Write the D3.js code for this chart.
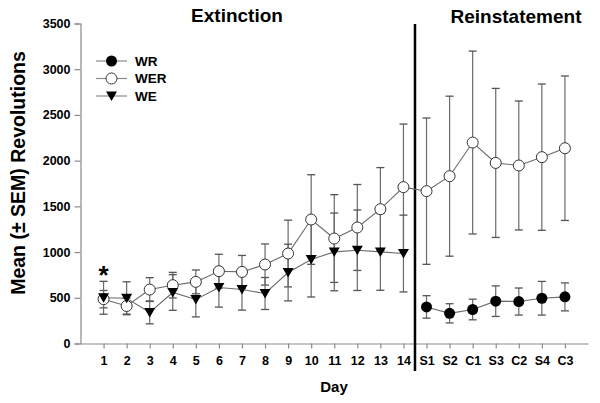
<!DOCTYPE html>
<html>
<head>
<meta charset="utf-8">
<script src="https://cdn.jsdelivr.net/npm/d3@7"></script>
<style>
  html, body { margin: 0; padding: 0; background: #fff; }
  svg { display: block; }
  text { font-family: "Liberation Sans", Arial, sans-serif; font-weight: bold; }
</style>
</head>
<body>
<svg id="chart" width="600" height="403"></svg>
<script>
const categories = ["1","2","3","4","5","6","7","8","9","10","11","12","13","14","S1","S2","C1","S3","C2","S4","C3"];
const yTicks = [0, 500, 1000, 1500, 2000, 2500, 3000, 3500];

const wrMean = [null,null,null,null,null,null,null,null,null,null,null,null,null,null, 400, 330, 372, 463, 459, 495, 510];
const wrSem  = [null,null,null,null,null,null,null,null,null,null,null,null,null,null, 123, 105, 113, 167, 148, 184, 153];

const werMean = [485, 410, 590, 638, 674, 791, 783, 864, 984, 1356, 1148, 1269, 1469, 1710, 1666, 1830, 2198, 1975, 1947, 2038, 2136];
const werSem  = [95, 88, 130, 140, 130, 185, 180, 225, 365, 490, 480, 470, 455, 690, 800, 875, 1000, 815, 705, 800, 790];

const weMean = [500, 495, 340, 558, 481, 613, 590, 547, 776, 919, 1002, 1020, 1002, 984, null,null,null,null,null,null,null];
const weSem  = [180, 180, 125, 195, 190, 215, 225, 175, 310, 410, 425, 440, 420, 420, null,null,null,null,null,null,null];

const seriesNames = ["WR", "WER", "WE"];

const svg = d3.select("#chart");
const x = d3.scaleLinear().domain([0, categories.length + 1]).range([80.5, 588]);
const y = d3.scaleLinear().domain([0, 3500]).range([343.5, 23.5]);

const axisColor = "#8a8a8a";

// Y axis
const yAxis = svg.append("g").attr("transform", "translate(80.5,0)")
  .call(d3.axisLeft(y).tickValues(yTicks).tickSize(6).tickPadding(4).tickFormat(d3.format("d")));
yAxis.select(".domain").attr("stroke", axisColor).attr("stroke-width", 1.2);
yAxis.selectAll(".tick line").attr("stroke", axisColor).attr("stroke-width", 1.2);
yAxis.selectAll("text").attr("font-size", 12.5).attr("fill", "#000")
  .style("font-family", "'Liberation Sans', Arial, sans-serif").style("font-weight", "bold");

// X axis
const xAxis = svg.append("g").attr("transform", "translate(0,343.5)")
  .call(d3.axisBottom(x).tickValues(d3.range(1, categories.length + 1)).tickSize(5).tickPadding(8)
    .tickFormat(i => categories[i - 1]).tickSizeOuter(0));
xAxis.select(".domain").attr("stroke", axisColor).attr("stroke-width", 1.2);
xAxis.selectAll(".tick line").attr("stroke", axisColor).attr("stroke-width", 1.2);
xAxis.selectAll("text").attr("font-size", 12.5).attr("fill", "#000")
  .style("font-family", "'Liberation Sans', Arial, sans-serif").style("font-weight", "bold");

// Separator
svg.append("line")
  .attr("x1", x(14.5)).attr("x2", x(14.5))
  .attr("y1", 24).attr("y2", 371)
  .attr("stroke", "#000").attr("stroke-width", 2.5);

// Titles
svg.append("text").attr("x", 237).attr("y", 22).attr("text-anchor", "middle")
  .attr("font-size", 19).text("Extinction");
svg.append("text").attr("x", 516).attr("y", 23).attr("text-anchor", "middle")
  .attr("font-size", 19).text("Reinstatement");

// Axis labels
svg.append("text").attr("x", 334).attr("y", 392).attr("text-anchor", "middle")
  .attr("font-size", 15).text("Day");
svg.append("text").attr("transform", "translate(24.5,173) rotate(-90)")
  .attr("text-anchor", "middle").attr("font-size", 19.5).text("Mean (± SEM) Revolutions");

// Asterisk
svg.append("text").attr("x", x(1)).attr("y", 284).attr("text-anchor", "middle")
  .attr("font-size", 26).text("*");

const series = [
  { name: "WR", mean: wrMean, sem: wrSem, marker: "filled" },
  { name: "WER", mean: werMean, sem: werSem, marker: "open" },
  { name: "WE", mean: weMean, sem: weSem, marker: "tri" }
];

const errG = svg.append("g");
const lineG = svg.append("g");
const markG = svg.append("g");

const lineGen = d3.line().defined(d => d.v != null).x(d => x(d.i)).y(d => y(d.v));
const triPath = "M-5.5,-4.5 L5.5,-4.5 L0,5 Z";

function drawMarker(g, type, cx, cy) {
  if (type === "filled") {
    g.append("circle").attr("cx", cx).attr("cy", cy).attr("r", 5.5).attr("fill", "#000");
  } else if (type === "open") {
    g.append("circle").attr("cx", cx).attr("cy", cy).attr("r", 5.5)
      .attr("fill", "#fff").attr("stroke", "#333").attr("stroke-width", 1);
  } else {
    g.append("path").attr("d", triPath).attr("transform", `translate(${cx},${cy})`).attr("fill", "#000");
  }
}

series.forEach(s => {
  const pts = s.mean.map((v, k) => ({ i: k + 1, v, e: s.sem[k] }));
  const valid = pts.filter(p => p.v != null);
  valid.forEach(p => {
    const cx = x(p.i);
    errG.append("line").attr("x1", cx).attr("x2", cx)
      .attr("y1", y(p.v - p.e)).attr("y2", y(p.v + p.e))
      .attr("stroke", "#6a6a6a").attr("stroke-width", 1.2);
    [p.v - p.e, p.v + p.e].forEach(val => {
      errG.append("line").attr("x1", cx - 4).attr("x2", cx + 4)
        .attr("y1", y(val)).attr("y2", y(val))
        .attr("stroke", "#555").attr("stroke-width", 1.3);
    });
  });
  lineG.append("path").datum(pts).attr("d", lineGen)
    .attr("fill", "none").attr("stroke", "#6a6a6a").attr("stroke-width", 1.1);
  valid.forEach(p => drawMarker(markG, s.marker, x(p.i), y(p.v)));
});

// Legend
const legY = [61, 78.5, 96];
series.forEach((s, k) => {
  const g = svg.append("g");
  g.append("line").attr("x1", 96).attr("x2", 127).attr("y1", legY[k]).attr("y2", legY[k])
    .attr("stroke", "#8a8a8a").attr("stroke-width", 1.2);
  drawMarker(g, s.marker, 111.5, legY[k]);
  g.append("text").attr("x", 135).attr("y", legY[k] + 4.5).attr("font-size", 13.5).text(s.name);
});
</script>
</body>
</html>
